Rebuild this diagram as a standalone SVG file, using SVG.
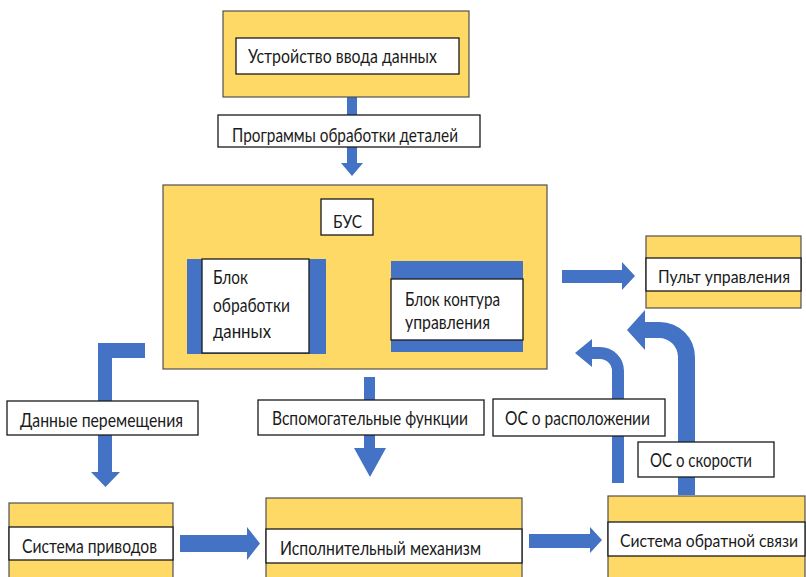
<svg xmlns="http://www.w3.org/2000/svg" width="806" height="577" viewBox="0 0 806 577">
<style>
.y{fill:#FFD966;stroke:#505050;stroke-width:1.2}
.w{fill:#FFFFFF;stroke:#1a1a1a;stroke-width:1.3}
.b{fill:#4472C4}
.a{fill:#4472C4;stroke:none}
text{font-family:Lato,"Open Sans","Liberation Sans",sans-serif;font-size:19px;fill:#1a1a1a}
.s{font-size:16.5px}
</style>
<rect width="806" height="577" fill="#FFFFFF"/>
<g id="connectors">
<path class="a" d="M347 97 H357 V163 H363 L352 176 L341 163 H347 Z"/>
<path class="a" d="M145 343 H98 V472 H91 L105.5 487 L120 472 H112 V358 H145 Z"/>
<path class="a" d="M364 377 H375 V448 H386 L370 477 L354 448 H364 Z"/>
<path class="a" d="M562 270 H622 V262 L635 276 L622 290 V283 H562 Z"/>
<path class="a" d="M180 535 H247 V527 L260 543.5 L247 560 V552 H180 Z"/>
<path class="a" d="M529 534 H590 V527 L602 540 L590 553 V548 H529 Z"/>
<path class="a" d="M612 483 L612 371 A12 12 0 0 0 600 359 L592 359 L592 367 L575 353 L592 339 L592 347 L600 347 A24 24 0 0 1 624 371 L624 483 Z"/>
<path class="a" d="M678 495 L678 357 A19 19 0 0 0 659 338 L645 338 L645 350 L627 330 L645 310 L645 322 L660 322 A35 35 0 0 1 695 357 L695 495 Z"/>
</g>
<g id="input-device">
<rect class="y" x="223" y="11" width="246" height="86"/>
<rect class="w" x="236" y="38" width="223" height="36"/>
<text x="248" y="63" textLength="189" lengthAdjust="spacingAndGlyphs">Устройство ввода данных</text>
</g>
<g id="label-programs">
<rect class="w" x="218" y="115" width="262" height="32"/>
<text x="232" y="142" textLength="226" lengthAdjust="spacingAndGlyphs">Программы обработки деталей</text>
</g>
<g id="bus">
<rect class="y" x="163" y="185" width="384" height="184"/>
<rect class="w" x="321" y="199" width="52" height="36"/>
<text x="333" y="228" textLength="29" lengthAdjust="spacingAndGlyphs" style="font-size:17px">БУС</text>
</g>
<g id="data-block">
<rect class="b" x="187" y="259" width="139" height="95"/>
<rect class="w" x="202" y="259" width="107" height="94"/>
<text x="213" y="284" textLength="35" lengthAdjust="spacingAndGlyphs">Блок</text>
<text x="213" y="312" textLength="77" lengthAdjust="spacingAndGlyphs">обработки</text>
<text x="213" y="338" textLength="58" lengthAdjust="spacingAndGlyphs">данных</text>
</g>
<g id="loop-block">
<rect class="b" x="391" y="261" width="132" height="91"/>
<rect class="w" x="391" y="279" width="132" height="61"/>
<text x="405" y="306" textLength="95" lengthAdjust="spacingAndGlyphs">Блок контура</text>
<text x="405" y="329" textLength="85" lengthAdjust="spacingAndGlyphs">управления</text>
</g>
<g id="console">
<rect class="y" x="646" y="236" width="155" height="72"/>
<rect class="w" x="646" y="258" width="155" height="33"/>
<text class="s" x="658" y="283" textLength="132" lengthAdjust="spacingAndGlyphs">Пульт управления</text>
</g>
<g id="label-movement">
<rect class="w" x="7" y="401" width="191" height="34"/>
<text x="20" y="427" textLength="163" lengthAdjust="spacingAndGlyphs">Данные перемещения</text>
</g>
<g id="label-aux">
<rect class="w" x="258" y="400" width="226" height="35"/>
<text x="272" y="425" textLength="196" lengthAdjust="spacingAndGlyphs">Вспомогательные функции</text>
</g>
<g id="label-position">
<rect class="w" x="493" y="399" width="172" height="37"/>
<text x="505" y="425" textLength="145" lengthAdjust="spacingAndGlyphs">ОС о расположении</text>
</g>
<g id="label-speed">
<rect class="w" x="638" y="442" width="136" height="35"/>
<text x="650" y="467" textLength="102" lengthAdjust="spacingAndGlyphs">ОС о скорости</text>
</g>
<g id="drives">
<rect class="y" x="9" y="503" width="164" height="80"/>
<rect class="w" x="9" y="527" width="164" height="33"/>
<text x="22" y="553" textLength="135" lengthAdjust="spacingAndGlyphs">Система приводов</text>
</g>
<g id="actuator">
<rect class="y" x="266" y="498" width="256" height="85"/>
<rect class="w" x="266" y="529" width="256" height="34"/>
<text x="280" y="555" textLength="201" lengthAdjust="spacingAndGlyphs">Исполнительный механизм</text>
</g>
<g id="feedback">
<rect class="y" x="608" y="496" width="197" height="87"/>
<rect class="w" x="608" y="522" width="197" height="34"/>
<text class="s" x="620" y="547" textLength="178" lengthAdjust="spacingAndGlyphs">Система обратной связи</text>
</g>
</svg>
